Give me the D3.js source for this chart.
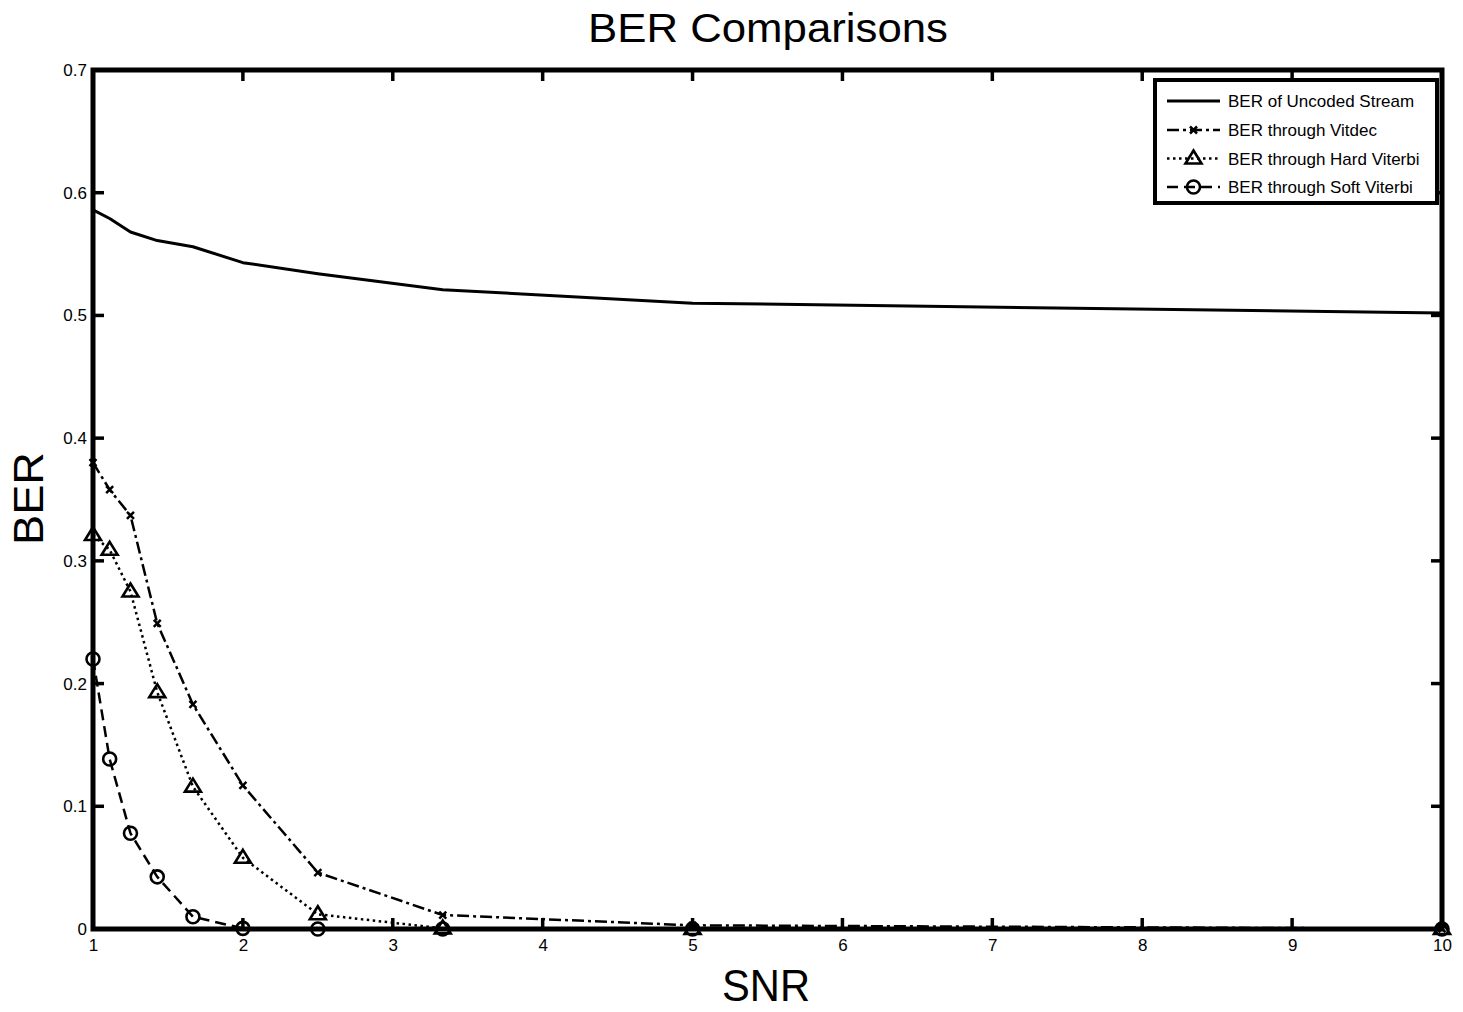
<!DOCTYPE html>
<html>
<head>
<meta charset="utf-8">
<script src="https://cdn.jsdelivr.net/npm/d3@7"></script>
<style>
  html, body { margin: 0; padding: 0; background: #fff; }
  text { font-family: "Liberation Sans", Arial, Helvetica, sans-serif; fill: #000; }
</style>
</head>
<body>
<svg id="chart" width="1463" height="1012"></svg>
<script>
// ---- data ----
const snr = [1, 1.1111, 1.25, 1.4286, 1.6667, 2, 2.5, 3.3333, 5, 10];
const berUncoded = [0.586, 0.579, 0.568, 0.561, 0.556, 0.543, 0.534, 0.521, 0.510, 0.502];
const berVitdec  = [0.380, 0.358, 0.337, 0.249, 0.183, 0.117, 0.046, 0.0114, 0.003, 0.0002];
const berHard    = [0.321, 0.309, 0.275, 0.193, 0.116, 0.058, 0.012, 0.0005, 0.0, 0.0];
const berSoft    = [0.220, 0.1385, 0.078, 0.0425, 0.010, 0.0005, 0.0, 0.0, 0.0, 0.0];
const xTicks = [1, 2, 3, 4, 5, 6, 7, 8, 9, 10];
const yTicks = [0, 0.1, 0.2, 0.3, 0.4, 0.5, 0.6, 0.7];
const seriesNames = ["BER of Uncoded Stream", "BER through Vitdec", "BER through Hard Viterbi", "BER through Soft Viterbi"];
const titleText = "BER Comparisons";
const xLabel = "SNR";
const yLabel = "BER";

// ---- layout ----
const svg = d3.select("#chart");
const L = 93, R = 1442, T = 70, B = 929;
const x = d3.scaleLinear().domain([1, 10]).range([L, R]);
const y = d3.scaleLinear().domain([0, 0.7]).range([B, T]);

const series = [
  { name: seriesNames[0], values: berUncoded, dash: null, marker: null, width: 3 },
  { name: seriesNames[1], values: berVitdec, dash: "12,4,3,4", marker: "x", width: 2.5 },
  { name: seriesNames[2], values: berHard, dash: "2.5,3.5", marker: "tri", width: 2.5 },
  { name: seriesNames[3], values: berSoft, dash: "11,6", marker: "circle", width: 2.5 }
];

const line = d3.line().x(d => x(d[0])).y(d => y(d[1]));

function drawMarker(g, type, cx, cy) {
  if (type === "x") {
    const s = 3.5;
    g.append("path")
      .attr("d", `M${cx - s},${cy - s}L${cx + s},${cy + s}M${cx - s},${cy + s}L${cx + s},${cy - s}`)
      .attr("stroke", "#000").attr("stroke-width", 2.5).attr("fill", "none");
  } else if (type === "tri") {
    const s = 8;
    g.append("path")
      .attr("d", `M${cx},${cy - s}L${cx + s},${cy + s * 0.62}L${cx - s},${cy + s * 0.62}Z`)
      .attr("stroke", "#000").attr("stroke-width", 2.6).attr("fill", "none");
  } else if (type === "circle") {
    g.append("circle").attr("cx", cx).attr("cy", cy).attr("r", 6.5)
      .attr("stroke", "#000").attr("stroke-width", 2.6).attr("fill", "none");
  }
}

// ---- series ----
const plot = svg.append("g");
series.forEach(s => {
  const pts = snr.map((v, i) => [v, s.values[i]]);
  plot.append("path")
    .attr("d", line(pts))
    .attr("fill", "none")
    .attr("stroke", "#000")
    .attr("stroke-width", s.width)
    .attr("stroke-dasharray", s.dash)
    .attr("stroke-linejoin", "round");
  if (s.marker) {
    pts.forEach(p => drawMarker(plot, s.marker, x(p[0]), y(p[1])));
  }
});

// ---- axes box & ticks ----
const axes = svg.append("g");
const tickLen = 11;
const xAxisB = d3.axisBottom(x).tickValues(xTicks).tickSize(0).tickPadding(10).tickFormat(d3.format("d"));
const gxb = axes.append("g").attr("transform", `translate(0,${B})`).call(xAxisB);
gxb.select(".domain").remove();
gxb.selectAll("text").attr("font-size", 17).attr("font-family", "Liberation Sans, Arial, sans-serif").attr("dy", "0.72em");
const yAxisL = d3.axisLeft(y).tickValues(yTicks).tickSize(0).tickPadding(6).tickFormat(d => d === 0 ? "0" : d3.format(".1f")(d));
const gyl = axes.append("g").attr("transform", `translate(${L},0)`).call(yAxisL);
gyl.select(".domain").remove();
gyl.selectAll("text").attr("font-size", 17).attr("font-family", "Liberation Sans, Arial, sans-serif");

xTicks.forEach(t => {
  axes.append("line").attr("x1", x(t)).attr("x2", x(t)).attr("y1", B).attr("y2", B - tickLen)
    .attr("stroke", "#000").attr("stroke-width", 3.5);
  axes.append("line").attr("x1", x(t)).attr("x2", x(t)).attr("y1", T).attr("y2", T + tickLen)
    .attr("stroke", "#000").attr("stroke-width", 3.5);
});
yTicks.forEach(t => {
  axes.append("line").attr("x1", L).attr("x2", L + tickLen).attr("y1", y(t)).attr("y2", y(t))
    .attr("stroke", "#000").attr("stroke-width", 3.5);
  axes.append("line").attr("x1", R).attr("x2", R - tickLen).attr("y1", y(t)).attr("y2", y(t))
    .attr("stroke", "#000").attr("stroke-width", 3.5);
});
axes.append("rect").attr("x", L).attr("y", T).attr("width", R - L).attr("height", B - T)
  .attr("fill", "none").attr("stroke", "#000").attr("stroke-width", 5);

// ---- legend ----
const lg = svg.append("g");
const lgX = 1155, lgY = 80, lgW = 282, lgH = 123;
lg.append("rect").attr("x", lgX).attr("y", lgY).attr("width", lgW).attr("height", lgH)
  .attr("fill", "#fff").attr("stroke", "#000").attr("stroke-width", 4);
const rowY = [101, 130, 158.5, 187];
series.forEach((s, i) => {
  const yy = rowY[i];
  lg.append("line").attr("x1", 1167).attr("x2", 1220).attr("y1", yy).attr("y2", yy)
    .attr("stroke", "#000").attr("stroke-width", s.width).attr("stroke-dasharray", s.dash);
  if (s.marker) drawMarker(lg, s.marker, 1193.5, yy);
  lg.append("text").attr("x", 1228).attr("y", yy + 6).attr("font-size", 17).text(s.name);
});

// ---- titles ----
svg.append("text").attr("x", 768).attr("y", 42).attr("text-anchor", "middle")
  .attr("font-size", 40).attr("textLength", 360).attr("lengthAdjust", "spacingAndGlyphs").text(titleText);
svg.append("text").attr("x", 766).attr("y", 1001).attr("text-anchor", "middle")
  .attr("font-size", 44).attr("textLength", 88).attr("lengthAdjust", "spacingAndGlyphs").text(xLabel);
svg.append("text").attr("transform", "translate(43,498.5) rotate(-90)").attr("text-anchor", "middle")
  .attr("font-size", 43).attr("textLength", 93).attr("lengthAdjust", "spacingAndGlyphs").text(yLabel);
</script>
</body>
</html>
